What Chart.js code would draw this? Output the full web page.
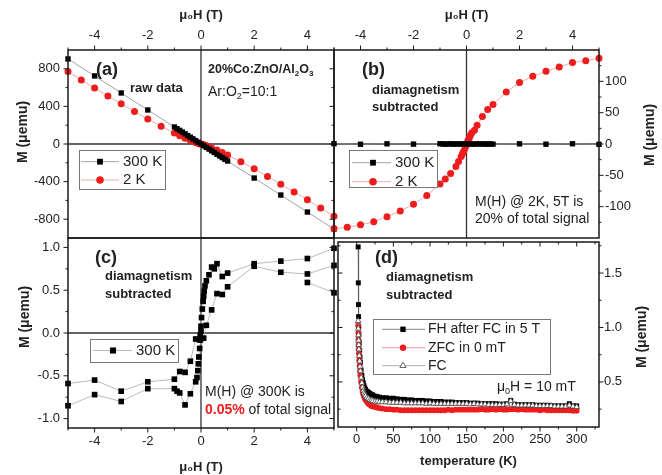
<!DOCTYPE html>
<html>
<head>
<meta charset="utf-8">
<script src="https://cdn.jsdelivr.net/npm/chart.js@4.4.0/dist/chart.umd.min.js"></script>
<style>
  html, body { margin: 0; padding: 0; background: #fff; }
  #wrap { position: relative; width: 662px; height: 475px; }
  #wrap canvas { position: absolute; left: 0; top: 0; }
</style>
</head>
<body>
<div id="wrap">
  <canvas id="pa" width="662" height="475"></canvas>
  <canvas id="pb" width="662" height="475"></canvas>
  <canvas id="pc" width="662" height="475"></canvas>
  <canvas id="pd" width="662" height="475"></canvas>
</div>
<script>
const FONT = "'Liberation Sans', Arial, Helvetica, sans-serif";
Chart.defaults.font.family = FONT;
Chart.defaults.color = '#222';

// (a)/(b) field sweeps, 300 K
const field300 = [-5, -4, -3, -2, -1, -0.9, -0.8, -0.7, -0.6, -0.5, -0.4, -0.3, -0.2, -0.1, 0,
  0.1, 0.2, 0.3, 0.4, 0.5, 0.6, 0.7, 0.8, 0.9, 1, 2, 3, 4, 5];
const mRaw300 = [905, 724, 543, 362, 181, 163, 145, 127, 109, 90, 72, 54, 36, 18, 0,
  -18, -36, -54, -72, -90, -109, -127, -145, -163, -181, -362, -543, -724, -905];
const mDia300 = [0.5, -0.4, 0.3, -0.2, 0.4, 0.2, -0.3, 0.1, 0.3, -0.2, 0.2, -0.1, 0.1, 0, 0.2,
  -0.1, 0.1, -0.2, 0.1, 0.2, -0.1, 0.2, -0.3, 0.1, -0.2, 0.3, -0.3, 0.4, -0.5];

// (a)/(b) field sweeps, 2 K
const field2K = [-5, -4.5, -4, -3.5, -3, -2.5, -2, -1.5, -1, -0.8, -0.6, -0.4, -0.3, -0.2, -0.15, -0.1, -0.05, 0,
  0.05, 0.1, 0.15, 0.2, 0.3, 0.4, 0.6, 0.8, 1, 1.5, 2, 2.5, 3, 3.5, 4, 4.5, 5];
const mRaw2K = [770, 682, 595, 510, 427, 346, 266, 190, 117, 89, 62, 36, 26, 16, 12, 7, 3, -1,
  -4, -9, -13, -18, -32, -42, -65, -90, -118, -189, -264, -345, -427, -511, -594, -682, -768];
const mDia2K = [-135, -133, -129, -124, -116, -107, -96, -82, -64, -56, -47, -36, -28, -20, -15, -11, -6, -1,
  5, 9, 14, 18, 22, 30, 44, 55, 63, 83, 98, 108, 116, 123, 130, 133, 137];

// (c) 300 K loop, diamagnetism subtracted
const fieldLoop = [4, 5, 5, 4, 3, 2, 1, 0.8, 0.6, 0.5, 0.4, 0.3, 0.2, 0.15, 0.12, 0.1, 0.08, 0.05, 0.02, 0,
  -0.03, -0.06, -0.2, -0.4, -0.6, -0.8, -1, -2, -3, -4, -5,
  -5, -4, -3, -2, -1, -0.9, -0.8, -0.6, -0.4, -0.2, -0.15, -0.12, -0.1, -0.08, -0.05, -0.02, 0,
  0.1, 0.2, 0.4, 0.6, 0.8, 1, 2, 3, 4, 5];
const mLoop = [0.59, 0.47, 0.99, 0.87, 0.84, 0.81, 0.70, 0.66, 0.81, 0.75, 0.77, 0.68, 0.61, 0.55, 0.49, 0.43, 0.37, 0.28, 0.18, 0.08,
  -0.02, -0.08, -0.07, -0.33, -0.46, -0.45, -0.54, -0.57, -0.68, -0.55, -0.59,
  -0.85, -0.72, -0.80, -0.65, -0.65, -0.68, -0.70, -0.84, -0.71, -0.57, -0.52, -0.44, -0.36, -0.28, -0.18, -0.08, 0.02,
  -0.06, 0.09, 0.27, 0.46, 0.45, 0.54, 0.78, 0.71, 0.69, 0.79];

// (d) M(T) at 10 mT
const tempK = [2, 2.2, 2.4, 2.6, 2.8, 3, 3.5, 4, 4.5, 5, 6, 7, 8, 9, 10, 11, 12, 14, 16, 18, 20, 22, 25, 28, 31, 35,
  40, 45, 50, 55, 60, 65, 70, 75, 80, 85, 90, 95, 100, 105, 110, 115, 120, 125, 130, 135, 140, 145, 150,
  155, 160, 165, 170, 175, 180, 185, 190, 195, 200, 205, 210, 215, 220, 225, 230, 235, 240, 245, 250,
  255, 260, 265, 270, 275, 280, 285, 290, 295, 300];
const mFH = [1.74, 1.41, 1.21, 1.10, 1.01, 0.94, 0.86, 0.79, 0.73, 0.68, 0.61, 0.56, 0.52, 0.49, 0.465, 0.445, 0.43,
  0.415, 0.405, 0.395, 0.385, 0.38, 0.37, 0.365, 0.36, 0.355,
  0.355, 0.35, 0.35, 0.345, 0.34, 0.34, 0.335, 0.335, 0.33, 0.33, 0.33, 0.325, 0.325, 0.32, 0.32, 0.32, 0.315,
  0.315, 0.315, 0.31, 0.31, 0.31, 0.31,
  0.305, 0.305, 0.305, 0.30, 0.30, 0.30, 0.30, 0.30, 0.295, 0.295, 0.30, 0.33, 0.295, 0.29, 0.29, 0.29, 0.29,
  0.29, 0.285, 0.285, 0.285, 0.285, 0.28, 0.28, 0.28, 0.28, 0.28, 0.30, 0.28, 0.28];
const mZFC = [1.02, 0.95, 0.89, 0.84, 0.80, 0.76, 0.70, 0.65, 0.60, 0.56, 0.50, 0.45, 0.41, 0.385, 0.365, 0.35, 0.335,
  0.315, 0.30, 0.29, 0.28, 0.275, 0.27, 0.265, 0.26, 0.255,
  0.25, 0.25, 0.245, 0.245, 0.24, 0.24, 0.24, 0.24, 0.24, 0.24, 0.24, 0.24, 0.24, 0.24, 0.24, 0.24, 0.24,
  0.245, 0.24, 0.245, 0.245, 0.245, 0.245,
  0.245, 0.245, 0.245, 0.25, 0.245, 0.245, 0.25, 0.245, 0.25, 0.245, 0.245, 0.25, 0.25, 0.245, 0.25, 0.245, 0.245,
  0.245, 0.245, 0.24, 0.245, 0.24, 0.24, 0.24, 0.24, 0.24, 0.24, 0.24, 0.235, 0.235];
const mFC = [1.06, 0.99, 0.93, 0.88, 0.84, 0.80, 0.74, 0.69, 0.64, 0.60, 0.54, 0.49, 0.45, 0.42, 0.40, 0.385, 0.37,
  0.355, 0.345, 0.335, 0.33, 0.325, 0.32, 0.32, 0.315, 0.315,
  0.315, 0.31, 0.31, 0.31, 0.31, 0.305, 0.305, 0.305, 0.305, 0.305, 0.305, 0.30, 0.305, 0.30, 0.30, 0.30, 0.30,
  0.30, 0.30, 0.30, 0.30, 0.30, 0.30,
  0.295, 0.30, 0.295, 0.295, 0.295, 0.29, 0.29, 0.29, 0.29, 0.29, 0.295, 0.325, 0.29, 0.285, 0.285, 0.285, 0.285,
  0.285, 0.28, 0.28, 0.28, 0.28, 0.28, 0.275, 0.275, 0.275, 0.275, 0.285, 0.275, 0.27];

// tick labels
const ticksField = [-4, -2, 0, 2, 4];
const ticksRaw = [-800, -400, 0, 400, 800];
const ticksDia = [-100, -50, 0, 50, 100];
const ticksLoop = [-1, -0.5, 0, 0.5, 1];
const ticksTemp = [0, 50, 100, 150, 200, 250, 300];
const ticksMT = [0.5, 1, 1.5];

const RED = '#ee1c1c';
const pts = (xs, ys) => xs.map((v, i) => ({ x: v, y: ys[i] }));

function marker(ctx, style, x, y, r, fill, stroke, bw) {
  ctx.save();
  ctx.fillStyle = fill;
  ctx.strokeStyle = stroke;
  ctx.lineWidth = bw;
  ctx.beginPath();
  if (style === 'rect') {
    const s = r * Math.SQRT1_2;
    ctx.rect(x - s, y - s, 2 * s, 2 * s);
  } else if (style === 'triangle') {
    let a = 0;
    for (let k = 0; k < 3; k++) {
      const px = x + Math.sin(a) * r, py = y - Math.cos(a) * r;
      k ? ctx.lineTo(px, py) : ctx.moveTo(px, py);
      a += 2 * Math.PI / 3;
    }
    ctx.closePath();
  } else {
    ctx.arc(x, y, r, 0, Math.PI * 2);
  }
  ctx.fill();
  if (bw > 0) ctx.stroke();
  ctx.restore();
}

// text with optional subscripts / per-part style
function richText(ctx, x, y, parts, size, bold, color) {
  let cx = x;
  ctx.textBaseline = 'middle';
  ctx.textAlign = 'left';
  parts.forEach(p => {
    const fs = p.sub ? Math.round(size * 0.62) : size;
    const b = (p.bold !== undefined ? p.bold : bold) ? 'bold ' : '';
    ctx.font = b + fs + 'px ' + FONT;
    ctx.fillStyle = p.color || color || '#222';
    ctx.fillText(p.s, cx, p.sub ? y + size * 0.3 : y);
    cx += ctx.measureText(p.s).width;
  });
}

// frame, ticks, zero lines, texts and legend of one panel
function decor(cfg) {
  return {
    id: 'decor',
    beforeDatasetsDraw(chart) {
      if (!cfg.zero) return;
      const { ctx, chartArea: a, scales } = chart;
      const px = scales.x.getPixelForValue(0), py = scales.y.getPixelForValue(0);
      ctx.save();
      ctx.strokeStyle = '#333';
      ctx.lineWidth = 1.3;
      ctx.beginPath();
      ctx.moveTo(px, a.top); ctx.lineTo(px, a.bottom);
      ctx.moveTo(a.left, py); ctx.lineTo(a.right, py);
      ctx.stroke();
      ctx.restore();
    },
    afterDatasetsDraw(chart) {
      const { ctx, chartArea: a, scales } = chart;
      ctx.save();
      ctx.strokeStyle = '#1a1a1a';
      ctx.lineWidth = 1.5;
      ctx.strokeRect(a.left, a.top, a.right - a.left, a.bottom - a.top);
      ctx.lineWidth = 1;
      Object.keys(cfg.ticks).forEach(side => {
        const t = cfg.ticks[side];
        const horiz = side === 'top' || side === 'bottom';
        const sc = horiz ? scales.x : scales.y;
        const out = (side === 'top' || side === 'left') ? -1 : 1;
        const dir = t.dir === 'in' ? -out : out;
        [[t.major, 4.5], [t.minor || [], 2.5]].forEach(([vals, len]) => {
          vals.forEach(v => {
            const p = sc.getPixelForValue(v);
            ctx.beginPath();
            if (horiz) {
              const y0 = side === 'top' ? a.top : a.bottom;
              ctx.moveTo(p, y0); ctx.lineTo(p, y0 + dir * len);
            } else {
              const x0 = side === 'left' ? a.left : a.right;
              ctx.moveTo(x0, p); ctx.lineTo(x0 + dir * len, p);
            }
            ctx.stroke();
          });
        });
      });
      ctx.restore();
    },
    afterDraw(chart) {
      const { ctx, chartArea: a } = chart;
      ctx.save();
      (cfg.texts || []).forEach(t => {
        richText(ctx, a.left + t.x, a.top + t.y, t.parts, t.size, t.bold, t.color);
      });
      const L = cfg.legend;
      if (L) {
        const bx = a.left + L.x, by = a.top + L.y;
        ctx.fillStyle = '#fff';
        ctx.fillRect(bx, by, L.w, L.h);
        ctx.strokeStyle = '#777';
        ctx.lineWidth = 1;
        ctx.strokeRect(bx + 0.5, by + 0.5, L.w, L.h);
        L.rows.forEach(r => {
          const ds = chart.data.datasets[r.ds];
          const yy = by + r.dy;
          ctx.strokeStyle = ds.borderColor;
          ctx.lineWidth = ds.borderWidth;
          ctx.beginPath();
          ctx.moveTo(bx + L.l0, yy); ctx.lineTo(bx + L.l1, yy);
          ctx.stroke();
          marker(ctx, ds.pointStyle, bx + L.mx, yy, ds.pointRadius + 0.3,
            ds.pointBackgroundColor, ds.pointBorderColor, ds.pointBorderWidth);
          richText(ctx, bx + L.tx, yy, [{ s: r.label }], L.size, false, '#222');
        });
      }
      if (cfg.ytitle) {
        const side = cfg.ytitle.side === 'right' ? a.right : a.left;
        ctx.translate(side + cfg.ytitle.dx, a.top + cfg.ytitle.dy);
        ctx.rotate(-Math.PI / 2);
        ctx.font = 'bold 14px ' + FONT;
        ctx.fillStyle = '#222';
        ctx.textAlign = 'center';
        ctx.textBaseline = 'middle';
        ctx.fillText('M (\u03bcemu)', 0, 0);
      }
      ctx.restore();
    }
  };
}

function axis(pos, min, max, tickVals, fmt, size, pad, title) {
  return {
    type: 'linear', position: pos, min: min, max: max,
    grid: { display: false, drawTicks: false },
    border: { display: false },
    afterBuildTicks: s => { s.ticks = tickVals.map(v => ({ value: v })); },
    afterFit: s => { if (s.isHorizontal()) s.height = size; else s.width = size; },
    ticks: { padding: pad, color: '#222', font: { size: 13 }, maxRotation: 0, autoSkip: false, callback: fmt },
    title: title
      ? { display: true, text: title.text, color: '#222', font: { size: 13, weight: 'bold' }, padding: title.pad }
      : { display: false }
  };
}

function series(xs, ys, o) {
  return Object.assign({
    data: pts(xs, ys), showLine: true, clip: false,
    pointBorderWidth: 0, pointHoverRadius: 0
  }, o);
}

const base = (padding, scales) => ({
  responsive: false, animation: false, devicePixelRatio: 1, events: [],
  layout: { padding: padding },
  scales: scales,
  plugins: { legend: { display: false }, tooltip: { enabled: false } }
});

const fmtInt = v => String(v);
const fmtOne = v => v.toFixed(1);
const black300 = { borderColor: '#8c8c8c', borderWidth: 0.8, pointStyle: 'rect', pointRadius: 3.8,
  pointBackgroundColor: '#000', pointBorderColor: '#000' };
const red2K = { borderColor: '#f3a0a0', borderWidth: 0.9, pointStyle: 'circle', pointRadius: 3.5,
  pointBackgroundColor: RED, pointBorderColor: RED };
const fieldMinor = [-5, -3, -1, 1, 3, 5];

// (a) raw data
new Chart(document.getElementById('pa'), {
  type: 'scatter',
  data: { datasets: [
    series(field300, mRaw300, Object.assign({ label: '300 K', order: 0 }, black300)),
    series(field2K, mRaw2K, Object.assign({ label: '2 K', order: 1 }, red2K))
  ] },
  options: base({ left: 0, top: 0, right: 328, bottom: 237 }, {
    x: axis('top', -5, 5, ticksField, fmtInt, 50, 7, { text: '\u03bc\u2080H (T)', pad: { top: 8 } }),
    y: axis('left', -1000, 1000, ticksRaw, fmtInt, 68, 8, null)
  }),
  plugins: [decor({
    zero: true,
    ticks: {
      top: { major: ticksField, minor: fieldMinor, dir: 'out' },
      left: { major: ticksRaw, minor: [-600, -200, 200, 600], dir: 'out' },
      right: { major: ticksRaw, minor: [-600, -200, 200, 600], dir: 'in' }
    },
    texts: [
      { x: 28, y: 20, size: 18, bold: true, parts: [{ s: '(a)' }] },
      { x: 62, y: 38, size: 13, bold: true, parts: [{ s: 'raw data' }] },
      { x: 140, y: 20, size: 12.5, bold: true, parts: [{ s: '20%Co:ZnO/Al' }, { s: '2', sub: true }, { s: 'O' }, { s: '3', sub: true }] },
      { x: 140, y: 42, size: 14, bold: false, parts: [{ s: 'Ar:O' }, { s: '2', sub: true }, { s: '=10:1' }] }
    ],
    legend: { x: 11, y: 100, w: 86, h: 39, l0: 2, l1: 40, mx: 21, tx: 44, size: 15,
      rows: [{ ds: 0, dy: 11.7, label: '300 K' }, { ds: 1, dy: 30, label: '2 K' }] },
    ytitle: { side: 'left', dx: -45, dy: 82 }
  })]
});

// (b) diamagnetism subtracted
new Chart(document.getElementById('pb'), {
  type: 'scatter',
  data: { datasets: [
    series(field300, mDia300, Object.assign({ label: '300 K', order: 0 }, black300)),
    series(field2K, mDia2K, Object.assign({ label: '2 K', order: 1 }, red2K))
  ] },
  options: base({ left: 334, top: 0, right: 0, bottom: 237 }, {
    x: axis('top', -5, 5, ticksField, fmtInt, 50, 7, { text: '\u03bc\u2080H (T)', pad: { top: 8 } }),
    y: axis('right', -150, 150, ticksDia, fmtInt, 63, 6, null)
  }),
  plugins: [decor({
    zero: true,
    ticks: {
      top: { major: ticksField, minor: fieldMinor, dir: 'out' },
      right: { major: ticksDia, minor: [-125, -75, -25, 25, 75, 125], dir: 'out' }
    },
    texts: [
      { x: 28, y: 20, size: 18, bold: true, parts: [{ s: '(b)' }] },
      { x: 38, y: 40, size: 13, bold: true, parts: [{ s: 'diamagnetism' }] },
      { x: 38, y: 57, size: 13, bold: true, parts: [{ s: 'subtracted' }] },
      { x: 141, y: 151.7, size: 14, bold: false, parts: [{ s: 'M(H) @ 2K, 5T is' }] },
      { x: 141, y: 169.3, size: 14, bold: false, parts: [{ s: '20% of total signal' }] }
    ],
    legend: { x: 15, y: 100, w: 88, h: 37, l0: 3, l1: 42, mx: 24, tx: 46, size: 15,
      rows: [{ ds: 0, dy: 12.7, label: '300 K' }, { ds: 1, dy: 31.7, label: '2 K' }] },
    ytitle: { side: 'right', dx: 51, dy: 85 }
  })]
});

// (c) 300 K loop
new Chart(document.getElementById('pc'), {
  type: 'scatter',
  data: { datasets: [
    series(fieldLoop, mLoop, { label: '300 K', borderColor: '#a8a8a8', borderWidth: 0.8, pointStyle: 'rect',
      pointRadius: 4, pointBackgroundColor: '#000', pointBorderColor: '#000' })
  ] },
  options: base({ left: 0, top: 238, right: 328, bottom: 0 }, {
    x: axis('bottom', -5, 5, ticksField, fmtInt, 47, 6, { text: '\u03bc\u2080H (T)', pad: { bottom: 0 } }),
    y: axis('left', -1.11, 1.11, ticksLoop, fmtOne, 68, 8, null)
  }),
  plugins: [decor({
    zero: true,
    ticks: {
      bottom: { major: ticksField, minor: fieldMinor, dir: 'out' },
      left: { major: ticksLoop, minor: [-0.75, -0.25, 0.25, 0.75], dir: 'out' },
      right: { major: ticksLoop, minor: [-0.75, -0.25, 0.25, 0.75], dir: 'in' }
    },
    texts: [
      { x: 27, y: 19.7, size: 18, bold: true, parts: [{ s: '(c)' }] },
      { x: 37, y: 38.7, size: 13, bold: true, parts: [{ s: 'diamagnetism' }] },
      { x: 37, y: 56.3, size: 13, bold: true, parts: [{ s: 'subtracted' }] },
      { x: 137, y: 153.7, size: 14, bold: false, parts: [{ s: 'M(H) @ 300K is' }] },
      { x: 137, y: 172, size: 14, bold: false, parts: [{ s: '0.05%', bold: true, color: RED }, { s: ' of total signal' }] }
    ],
    legend: { x: 22, y: 101, w: 88, h: 23, l0: 3, l1: 42, mx: 23, tx: 46, size: 15,
      rows: [{ ds: 0, dy: 11.5, label: '300 K' }] },
    ytitle: { side: 'left', dx: -43, dy: 79 }
  })]
});

// (d) M(T)
new Chart(document.getElementById('pd'), {
  type: 'scatter',
  data: { datasets: [
    series(tempK, mFH, { label: 'FH after FC in 5 T', order: 2, borderColor: '#555', borderWidth: 0.7,
      pointStyle: 'rect', pointRadius: 3.5, pointBackgroundColor: '#000', pointBorderColor: '#000' }),
    series(tempK, mZFC, { label: 'ZFC in 0 mT', order: 1, borderColor: '#f07070', borderWidth: 0.7,
      pointStyle: 'circle', pointRadius: 2.9, pointBackgroundColor: RED, pointBorderColor: RED }),
    series(tempK, mFC, { label: 'FC', order: 0, borderColor: '#888', borderWidth: 0.7,
      pointStyle: 'triangle', pointRadius: 3.3, pointBackgroundColor: '#fff', pointBorderColor: '#444', pointBorderWidth: 0.8 })
  ] },
  options: base({ left: 338, top: 242, right: 0, bottom: 0 }, {
    x: axis('bottom', -25.5, 330.4, ticksTemp, fmtInt, 48, 5, { text: 'temperature (K)', pad: { bottom: 5.5 } }),
    y: axis('right', 0.086, 1.785, ticksMT, fmtOne, 63, 5, null)
  }),
  plugins: [decor({
    zero: false,
    ticks: {
      bottom: { major: ticksTemp, minor: [25, 75, 125, 175, 225, 275, 325], dir: 'out' },
      top: { major: ticksTemp, minor: [25, 75, 125, 175, 225, 275, 325], dir: 'in' },
      right: { major: ticksMT, minor: [0.25, 0.75, 1.25, 1.75], dir: 'out' },
      left: { major: ticksMT, minor: [0.25, 0.75, 1.25, 1.75], dir: 'in' }
    },
    texts: [
      { x: 37, y: 16, size: 18, bold: true, parts: [{ s: '(d)' }] },
      { x: 48, y: 35, size: 13, bold: true, parts: [{ s: 'diamagnetism' }] },
      { x: 48, y: 53, size: 13, bold: true, parts: [{ s: 'subtracted' }] },
      { x: 159, y: 145, size: 14, bold: false, parts: [{ s: '\u03bc' }, { s: '0', sub: true }, { s: 'H = 10 mT' }] }
    ],
    legend: { x: 35, y: 77, w: 177, h: 55, l0: 9, l1: 52, mx: 30, tx: 55, size: 14,
      rows: [{ ds: 0, dy: 10.3, label: 'FH after FC in 5 T' }, { ds: 1, dy: 28.7, label: 'ZFC in 0 mT' },
        { ds: 2, dy: 46.7, label: 'FC' }] },
    ytitle: { side: 'right', dx: 43, dy: 95 }
  })]
});
</script>
</body>
</html>
